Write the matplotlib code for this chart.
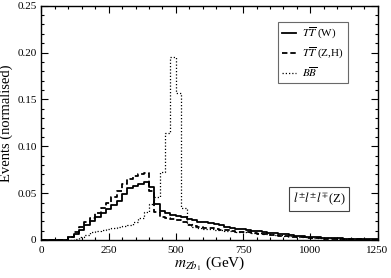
import matplotlib
matplotlib.use("Agg")
import matplotlib.pyplot as plt
import numpy as np
from matplotlib.ticker import MultipleLocator, FixedLocator, FixedFormatter
from matplotlib.lines import Line2D

plt.rcParams['font.family'] = 'Liberation Serif'
plt.rcParams['mathtext.fontset'] = 'stix'

# 20 GeV bins, 0 .. 1260
edges = np.arange(0, 1280, 20)

# T Tbar (W)
w_vals = [0, 0, 0, 0, 0.0005,
          0.003, 0.006, 0.011, 0.016, 0.020,
          0.025, 0.029, 0.033, 0.037, 0.042,
          0.049, 0.055, 0.058, 0.060, 0.062,
          0.057, 0.038, 0.031, 0.029, 0.027,
          0.026, 0.025, 0.022, 0.021, 0.019,
          0.019, 0.018, 0.017, 0.0155, 0.014,
          0.013, 0.012, 0.012, 0.011, 0.010,
          0.0095, 0.008, 0.0075, 0.007, 0.0065,
          0.006, 0.0053, 0.0045, 0.004, 0.0035,
          0.003, 0.003, 0.0025, 0.002, 0.002,
          0.0018, 0.0015, 0.0013, 0.0012, 0.001,
          0.001, 0.0008, 0.0007]

# T Tbar (Z,H)
zh_vals = [0, 0, 0, 0, 0.0005,
           0.003, 0.009, 0.014, 0.019, 0.024,
           0.029, 0.034, 0.040, 0.046, 0.052,
           0.060, 0.065, 0.068, 0.070, 0.071,
           0.052, 0.030, 0.025, 0.023, 0.022,
           0.021, 0.019, 0.016, 0.015, 0.014,
           0.013, 0.0125, 0.012, 0.011, 0.0105,
           0.0095, 0.009, 0.0085, 0.008, 0.007,
           0.0065, 0.006, 0.0055, 0.005, 0.0045,
           0.004, 0.0035, 0.003, 0.0028, 0.0025,
           0.002, 0.0018, 0.0015, 0.0013, 0.0012,
           0.001, 0.0009, 0.0008, 0.0007, 0.0006,
           0.0005, 0.0005, 0.0004]

# B Bbar
bb_vals = [0, 0, 0, 0, 0,
           0, 0.001, 0.003, 0.005, 0.008,
           0.010, 0.011, 0.012, 0.013, 0.014,
           0.015, 0.016, 0.019, 0.023, 0.030,
           0.038, 0.046, 0.073, 0.114, 0.195,
           0.157, 0.034, 0.017, 0.014, 0.013,
           0.012, 0.0115, 0.011, 0.0105, 0.010,
           0.0095, 0.009, 0.0085, 0.008, 0.0075,
           0.007, 0.0065, 0.006, 0.0055, 0.005,
           0.0045, 0.004, 0.0035, 0.003, 0.0028,
           0.0025, 0.0022, 0.002, 0.0018, 0.0016,
           0.0014, 0.0012, 0.001, 0.0009, 0.0008,
           0.0007, 0.0006, 0.0005]

fig = plt.figure(figsize=(3.91, 2.78), dpi=100)
ax = fig.add_axes([0.106, 0.1367, 0.8595, 0.8428])

ax.step(edges, np.append(w_vals, w_vals[-1]), where='post', color='black', lw=1.3)
ax.step(edges, np.append(zh_vals, zh_vals[-1]), where='post', color='black', lw=1.3,
        linestyle=(0, (3, 1.6)))
ax.step(edges, np.append(bb_vals, bb_vals[-1]), where='post', color='black', lw=0.9,
        linestyle=(0, (1, 1.6)))

ax.set_xlim(0, 1250)
ax.set_ylim(0, 0.25)

ax.xaxis.set_major_locator(MultipleLocator(250))
ax.xaxis.set_minor_locator(MultipleLocator(50))
yt = [0, 0.05, 0.10, 0.15, 0.20, 0.25]
ax.yaxis.set_major_locator(FixedLocator(yt))
ax.yaxis.set_major_formatter(FixedFormatter(['0', '0.05', '0.10', '0.15', '0.20', '0.25']))
ax.yaxis.set_minor_locator(MultipleLocator(0.01))
ax.tick_params(which='both', direction='in', top=True, right=True, labelsize=8, width=0.8)
ax.tick_params(which='major', length=5)
ax.tick_params(which='minor', length=2.5)
ax.tick_params(axis='x', pad=4)
for s in ax.spines.values():
    s.set_linewidth(1.0)

ax.set_ylabel('Events (normalised)', fontsize=10.5, labelpad=3)
ax.set_xlabel(r'$m_{Zb_1}$ (GeV)', fontsize=11, labelpad=0)

handles = [Line2D([], [], color='black', lw=1.3),
           Line2D([], [], color='black', lw=1.3, linestyle=(0, (3, 1.6))),
           Line2D([], [], color='black', lw=0.9, linestyle=(0, (1, 1.6)))]
labels = [r'$T\overline{T}$ (W)', r'$T\overline{T}$ (Z,H)', r'$B\overline{B}$']
leg = ax.legend(handles, labels, loc='upper right', bbox_to_anchor=(0.913, 0.932),
                fontsize=8, frameon=True, fancybox=False, edgecolor='#444444',
                handlelength=1.2, handletextpad=0.6, borderpad=0.4, labelspacing=0.38,
                borderaxespad=0)
leg.get_frame().set_linewidth(0.8)

ax.text(0.826, 0.175, r'$l^{\pm}l^{\pm}l^{\mp}$(Z)', transform=ax.transAxes,
        fontsize=9, ha='center', va='center',
        bbox=dict(boxstyle='square,pad=0.3', fc='white', ec='#444444', lw=0.8))

fig.savefig('out.png', dpi=100)
